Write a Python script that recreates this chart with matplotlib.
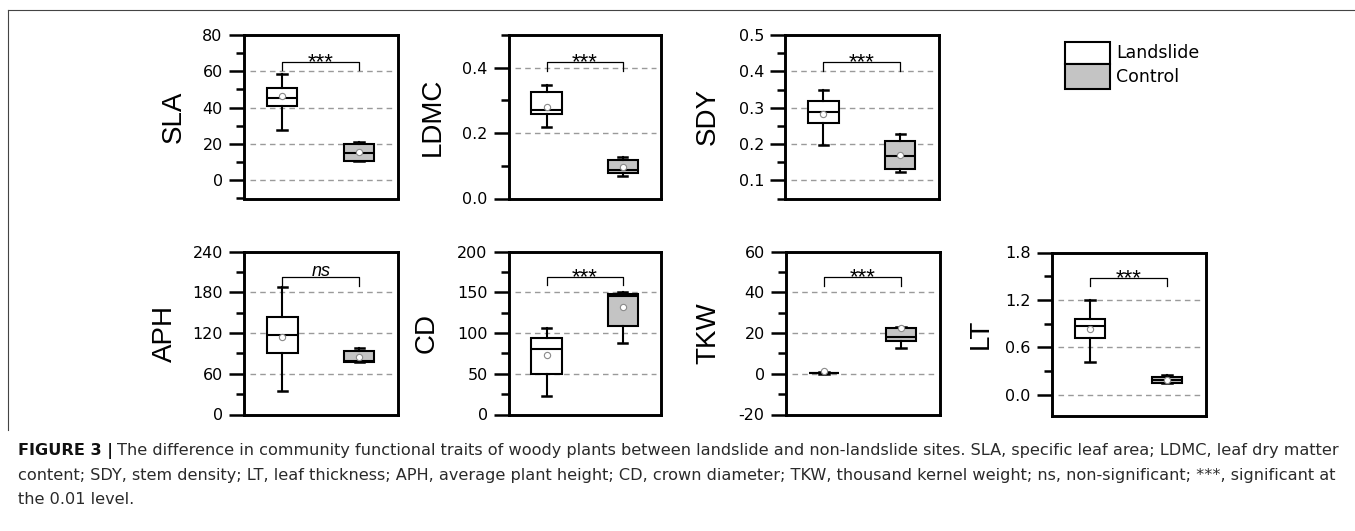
import matplotlib
matplotlib.use('Agg')
import matplotlib.pyplot as plt
from matplotlib.patches import Rectangle
from matplotlib.lines import Line2D
from matplotlib.ticker import MultipleLocator, FormatStrFormatter
import matplotlib.transforms as mtrans

W, H = 1355, 531

# data
traits = ['SLA', 'LDMC', 'SDY', 'APH', 'CD', 'TKW', 'LT']
groups = ['Landslide', 'Control']
sig = ['***', '***', '***', 'ns', '***', '***', '***']

# landslide sites: lower whisker, Q1, median, Q3, upper whisker, mean
land_lo = [27.8, 0.218, 0.197, 35.3, 23.3, 0.1, 0.413]
land_q1 = [40.7, 0.257, 0.257, 90.8, 49.9, 0.2, 0.717]
land_med = [45.4, 0.272, 0.289, 117.3, 80.6, 0.4, 0.877]
land_q3 = [50.9, 0.326, 0.319, 143.3, 93.7, 0.6, 0.961]
land_hi = [58.3, 0.347, 0.349, 187.5, 106.4, 0.9, 1.2]
land_mean = [46.3, 0.280, 0.282, 114.8, 72.4, 1.3, 0.835]

# control sites
ctrl_lo = [10.7, 0.070, 0.123, 77.0, 87.5, 12.4, 0.150]
ctrl_q1 = [10.7, 0.078, 0.130, 77.5, 108.0, 16.1, 0.156]
ctrl_med = [15.2, 0.088, 0.167, 78.5, 144.8, 17.8, 0.190]
ctrl_q3 = [20.0, 0.118, 0.207, 94.2, 148.0, 22.5, 0.224]
ctrl_hi = [21.3, 0.126, 0.227, 97.7, 150.9, 22.8, 0.253]
ctrl_mean = [15.6, 0.095, 0.171, 84.4, 131.7, 22.5, 0.190]

yticks = [[0, 20, 40, 60, 80], [0, 0.2, 0.4], [0.1, 0.2, 0.3, 0.4, 0.5],
          [0, 60, 120, 180, 240], [0, 50, 100, 150, 200], [-20, 0, 20, 40, 60],
          [0, 0.6, 1.2, 1.8]]
tick_fmt = ['%d', '%.1f', '%.1f', '%d', '%d', '%d', '%.1f']

# layout (pixels / data units for brackets)
panel_px = [(243.5, 35, 397.5, 198.5), (508.5, 35, 661, 198.5), (785, 35, 938.5, 198.5),
            (244, 251.5, 397.5, 414.5), (508.5, 251.5, 661, 414.5), (785.5, 251.5, 939.5, 414.5),
            (1051.5, 252.5, 1205.5, 415.5)]
ylims = [(-10, 80), (0, 0.5), (0.05, 0.5), (0, 240), (0, 200), (-20, 60), (-0.26, 1.8)]
bracket_top = [65.4, 0.417, 0.425, 202, 168.5, 47.7, 1.48]
bracket_leg = [60.5, 0.39, 0.40, 188.5, 158.3, 43.2, 1.38]
label_off = [-70, -76, -77, -79, -82, -77, -71]

fills = ['white', '#c4c4c4']
tick_font = 'DejaVu Sans'
text_font = 'Liberation Sans'

fig = plt.figure(figsize=(W / 100, H / 100), dpi=100)

for i, name in enumerate(traits):
    l, t, r, b = panel_px[i]
    ax = fig.add_axes([l / W, 1 - b / H, (r - l) / W, (b - t) / H])
    stats = [
        dict(whislo=land_lo[i], q1=land_q1[i], med=land_med[i], q3=land_q3[i],
             whishi=land_hi[i], mean=land_mean[i], fliers=[]),
        dict(whislo=ctrl_lo[i], q1=ctrl_q1[i], med=ctrl_med[i], q3=ctrl_q3[i],
             whishi=ctrl_hi[i], mean=ctrl_mean[i], fliers=[]),
    ]
    bp = ax.bxp(stats, positions=[1, 2], widths=0.4, capwidths=0.12,
                showmeans=True, patch_artist=True, showfliers=False,
                boxprops=dict(edgecolor='black', linewidth=1.5),
                medianprops=dict(color='black', linewidth=1.5),
                whiskerprops=dict(color='black', linewidth=1.5),
                capprops=dict(color='black', linewidth=1.8),
                meanprops=dict(marker='o', markerfacecolor='white',
                               markeredgecolor='#8a8a8a', markersize=4.5,
                               markeredgewidth=0.8))
    for patch, c in zip(bp['boxes'], fills):
        patch.set_facecolor(c)
    for artist_list in bp.values():
        for a in artist_list:
            a.set_zorder(3)
    for m in bp['means']:
        m.set_zorder(4)

    ax.set_xlim(0.5, 2.5)
    ax.set_ylim(*ylims[i])
    ax.set_xticks([])
    ax.set_yticks(yticks[i])
    step = yticks[i][1] - yticks[i][0]
    ax.yaxis.set_minor_locator(MultipleLocator(step / 2))
    ax.yaxis.set_major_formatter(FormatStrFormatter(tick_fmt[i]))
    ax.tick_params(axis='y', which='major', length=10.5, width=1.8, pad=4.5,
                   labelsize=11.5)
    ax.tick_params(axis='y', which='minor', length=5.8, width=1.8)
    for lab in ax.get_yticklabels():
        lab.set_fontfamily(tick_font)
    for sp in ax.spines.values():
        sp.set_linewidth(2.1)

    lo, hi = ylims[i]
    span = hi - lo
    for v in yticks[i]:
        if lo + 0.01 * span < v < hi - 0.01 * span:
            ax.axhline(v, xmin=0.04, xmax=0.97, color='#9a9a9a', lw=1.0,
                       ls=(0, (4, 3)), zorder=1)

    # significance bracket
    ax.plot([1, 1, 2, 2], [bracket_leg[i], bracket_top[i], bracket_top[i], bracket_leg[i]],
            color='black', lw=0.9, zorder=3)
    if sig[i] == 'ns':
        ax.annotate('ns', xy=(1.5, bracket_top[i]), xytext=(0, 0.8),
                    textcoords='offset points', ha='center', va='baseline',
                    fontsize=13, fontstyle='italic', family=text_font)
    else:
        ax.annotate(sig[i], xy=(1.5, bracket_top[i]), xytext=(0, -4.6),
                    textcoords='offset points', ha='center', va='baseline',
                    fontsize=16, family=text_font)

    # y label, centred at a fixed pixel distance from the left spine
    trans = mtrans.blended_transform_factory(ax.transAxes, ax.transAxes) + \
        mtrans.ScaledTranslation(label_off[i] / 100, 0, fig.dpi_scale_trans)
    ax.text(0, 0.5, name, rotation=90, ha='center', va='center',
            fontsize=20, family=text_font, transform=trans)

# legend
leg_x0, leg_x1 = 1064.5, 1110
leg_rows = [(41.7, 64), (64, 89.3)]
for (y0, y1), c, g in zip(leg_rows, fills, groups):
    fig.add_artist(Rectangle((leg_x0 / W, 1 - y1 / H), (leg_x1 - leg_x0) / W, (y1 - y0) / H,
                             transform=fig.transFigure, facecolor=c, edgecolor='black',
                             lw=1.5))
    fig.text(1116 / W, 1 - (y0 + y1) / 2 / H, g, ha='left', va='center',
             fontsize=12.5, family=tick_font)

# figure frame (top and left rules)
fig.add_artist(Line2D([8 / W, 1], [1 - 10 / H, 1 - 10 / H], transform=fig.transFigure,
                      color='#444444', lw=0.8))
fig.add_artist(Line2D([8 / W, 8 / W], [1 - 10 / H, 1 - 430 / H], transform=fig.transFigure,
                      color='#444444', lw=0.8))

# caption
cap_lines = [
    'The difference in community functional traits of woody plants between landslide and '
    'non-landslide sites. SLA, specific leaf area; LDMC, leaf dry matter',
    'content; SDY, stem density; LT, leaf thickness; APH, average plant height; CD, crown '
    'diameter; TKW, thousand kernel weight; ns, non-significant; ***, significant at',
    'the 0.01 level.',
]
cap_y = [451, 475.5, 499.5]
cap_font = 'DejaVu Sans'
renderer = fig.canvas.get_renderer()

# pick the caption size so the first line spans the same width as the reference
probe_b = fig.text(0, 0, 'FIGURE 3 |', fontsize=10, fontweight='bold', family=cap_font)
probe_r = fig.text(0, 0, cap_lines[0], fontsize=10, family=cap_font)
w10 = probe_b.get_window_extent(renderer).width + 4 + \
    probe_r.get_window_extent(renderer).width
probe_b.remove()
probe_r.remove()
cap_size = 10 * (1338 - 18) / w10

bold = fig.text(18 / W, 1 - cap_y[0] / H, 'FIGURE 3 |', ha='left', va='center',
                fontsize=cap_size, fontweight='bold', family=cap_font, color='#111111')
bb = bold.get_window_extent(renderer)
fig.text(bb.x1 / W + 4 / W, 1 - cap_y[0] / H, cap_lines[0], ha='left', va='center',
         fontsize=cap_size, family=cap_font, color='#2a2a2a')
for line, y in zip(cap_lines[1:], cap_y[1:]):
    fig.text(18 / W, 1 - y / H, line, ha='left', va='center',
             fontsize=cap_size, family=cap_font, color='#2a2a2a')

fig.savefig('out.png', dpi=100)
